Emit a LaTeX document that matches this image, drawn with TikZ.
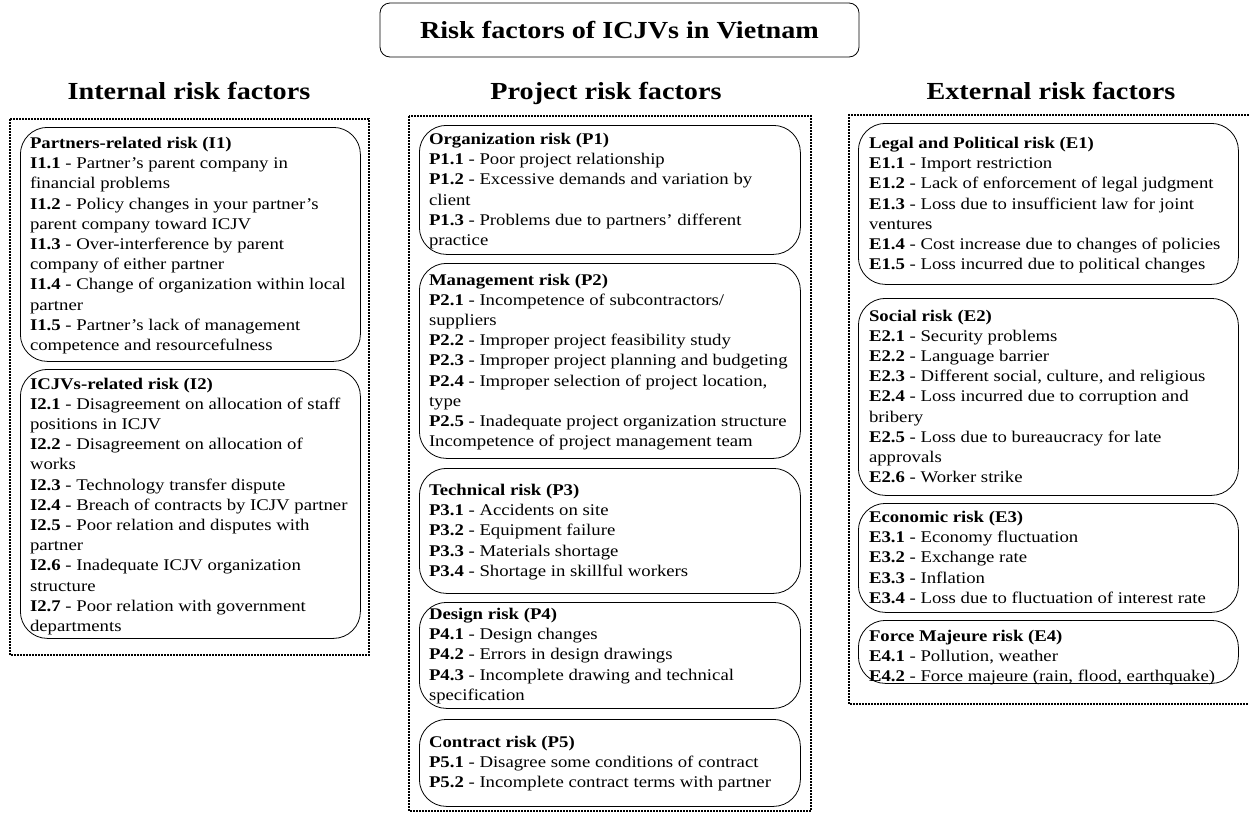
\documentclass[tikz,border=0pt]{standalone}
\usepackage{fontspec}
\setmainfont[FakeStretch=1.15]{Liberation Serif}
\newcommand{\bodyfont}{\fontsize{16.3}{20.2}\selectfont}
\newcommand{\rtext}[2]{\parbox[t]{#1pt}{\raggedright\bodyfont #2}}
\begin{document}
\begin{tikzpicture}[x=1pt,y=-1pt,
  riskbox/.style={draw, rounded corners=27pt, line width=0.8pt, inner sep=0pt, anchor=north west},
  titlebox/.style={draw, rounded corners=10pt, line width=0.8pt, inner sep=0pt},
  groupline/.style={line width=1.1pt, dash pattern=on 1.6pt off 1.4pt},
  rtxt/.style={anchor=base west, inner sep=0pt, outer sep=0pt},
  headtxt/.style={anchor=base, inner sep=0pt, font=\fontsize{24.5}{28}\selectfont\bfseries}
]
\useasboundingbox (0,0) rectangle (1249,814);

% title
\node[titlebox, minimum width=479pt, minimum height=54pt] (title) at (619.5,30) {};
\node[headtxt] (titletext) at (619.5,38.5) {Risk factors of ICJVs in Vietnam};

% column headers
\node[headtxt] (hint) at (189,99) {Internal risk factors};
\node[headtxt] (hprj) at (606,99) {Project risk factors};
\node[headtxt] (hext) at (1051,99) {External risk factors};

% group frames
\draw[groupline] (10,119) rectangle (369,655);
\draw[groupline] (409,116) rectangle (811,811);
\draw[groupline] (1249,115) -- (849,115) -- (849,704) -- (1249,704);

% ---------------- Internal ----------------
\node[riskbox, minimum width=340pt, minimum height=234pt] (i1) at (20,127) {};
\node[rtxt] (i1t) at (30,148.5) {\rtext{330}{%
\textbf{Partners-related risk (I1)}\\
\textbf{I1.1} - Partner’s parent company in\\
financial problems\\
\textbf{I1.2} - Policy changes in your partner’s\\
parent company toward ICJV\\
\textbf{I1.3} - Over-interference by parent\\
company of either partner\\
\textbf{I1.4} - Change of organization within local\\
partner\\
\textbf{I1.5} - Partner’s lack of management\\
competence and resourcefulness}};

\node[riskbox, minimum width=340pt, minimum height=269pt] (i2) at (20,369) {};
\node[rtxt] (i2t) at (30,389) {\rtext{330}{%
\textbf{ICJVs-related risk (I2)}\\
\textbf{I2.1} - Disagreement on allocation of staff\\
positions in ICJV\\
\textbf{I2.2} - Disagreement on allocation of\\
works\\
\textbf{I2.3} - Technology transfer dispute\\
\textbf{I2.4} - Breach of contracts by ICJV partner\\
\textbf{I2.5} - Poor relation and disputes with\\
partner\\
\textbf{I2.6} - Inadequate ICJV organization\\
structure\\
\textbf{I2.7} - Poor relation with government\\
departments}};

% ---------------- Project ----------------
\node[riskbox, minimum width=381pt, minimum height=129pt] (p1) at (419,125) {};
\node[rtxt] (p1t) at (429,144.5) {\rtext{380}{%
\textbf{Organization risk (P1)}\\
\textbf{P1.1} - Poor project relationship\\
\textbf{P1.2} - Excessive demands and variation by\\
client\\
\textbf{P1.3} - Problems due to partners’ different\\
practice}};

\node[riskbox, minimum width=381pt, minimum height=195pt] (p2) at (419,263) {};
\node[rtxt] (p2t) at (429,285) {\rtext{380}{%
\textbf{Management risk (P2)}\\
\textbf{P2.1} - Incompetence of subcontractors/\\
suppliers\\
\textbf{P2.2} - Improper project feasibility study\\
\textbf{P2.3} - Improper project planning and budgeting\\
\textbf{P2.4} - Improper selection of project location,\\
type\\
\textbf{P2.5} - Inadequate project organization structure\\
Incompetence of project management team}};

\node[riskbox, minimum width=381pt, minimum height=125pt] (p3) at (419,468) {};
\node[rtxt] (p3t) at (429,495.5) {\rtext{380}{%
\textbf{Technical risk (P3)}\\
\textbf{P3.1} - Accidents on site\\
\textbf{P3.2} - Equipment failure\\
\textbf{P3.3} - Materials shortage\\
\textbf{P3.4} - Shortage in skillful workers}};

\node[riskbox, minimum width=381pt, minimum height=106pt] (p4) at (419,602) {};
\node[rtxt] (p4t) at (429,619.5) {\rtext{380}{%
\textbf{Design risk (P4)}\\
\textbf{P4.1} - Design changes\\
\textbf{P4.2} - Errors in design drawings\\
\textbf{P4.3} - Incomplete drawing and technical\\
specification}};

\node[riskbox, minimum width=381pt, minimum height=87pt] (p5) at (419,719) {};
\node[rtxt] (p5t) at (429,747.5) {\rtext{380}{%
\textbf{Contract risk (P5)}\\
\textbf{P5.1} - Disagree some conditions of contract\\
\textbf{P5.2} - Incomplete contract terms with partner}};

% ---------------- External ----------------
\node[riskbox, minimum width=380pt, minimum height=161pt] (e1) at (858,123) {};
\node[rtxt] (e1t) at (869,148.5) {\rtext{370}{%
\textbf{Legal and Political risk (E1)}\\
\textbf{E1.1} - Import restriction\\
\textbf{E1.2} - Lack of enforcement of legal judgment\\
\textbf{E1.3} - Loss due to insufficient law for joint\\
ventures\\
\textbf{E1.4} - Cost increase due to changes of policies\\
\textbf{E1.5} - Loss incurred due to political changes}};

\node[riskbox, minimum width=380pt, minimum height=197pt] (e2) at (858,298) {};
\node[rtxt] (e2t) at (869,321) {\rtext{370}{%
\textbf{Social risk (E2)}\\
\textbf{E2.1} - Security problems\\
\textbf{E2.2} - Language barrier\\
\textbf{E2.3} - Different social, culture, and religious\\
\textbf{E2.4} - Loss incurred due to corruption and\\
bribery\\
\textbf{E2.5} - Loss due to bureaucracy for late\\
approvals\\
\textbf{E2.6} - Worker strike}};

\node[riskbox, minimum width=380pt, minimum height=109pt] (e3) at (858,503) {};
\node[rtxt] (e3t) at (869,522.5) {\rtext{370}{%
\textbf{Economic risk (E3)}\\
\textbf{E3.1} - Economy fluctuation\\
\textbf{E3.2} - Exchange rate\\
\textbf{E3.3} - Inflation\\
\textbf{E3.4} - Loss due to fluctuation of interest rate}};

\node[riskbox, minimum width=380pt, minimum height=63pt] (e4) at (858,620) {};
\node[rtxt] (e4t) at (869,641.5) {\rtext{370}{%
\textbf{Force Majeure risk (E4)}\\
\textbf{E4.1} - Pollution, weather\\
\textbf{E4.2} - Force majeure (rain, flood, earthquake)}};
\end{tikzpicture}
\end{document}
